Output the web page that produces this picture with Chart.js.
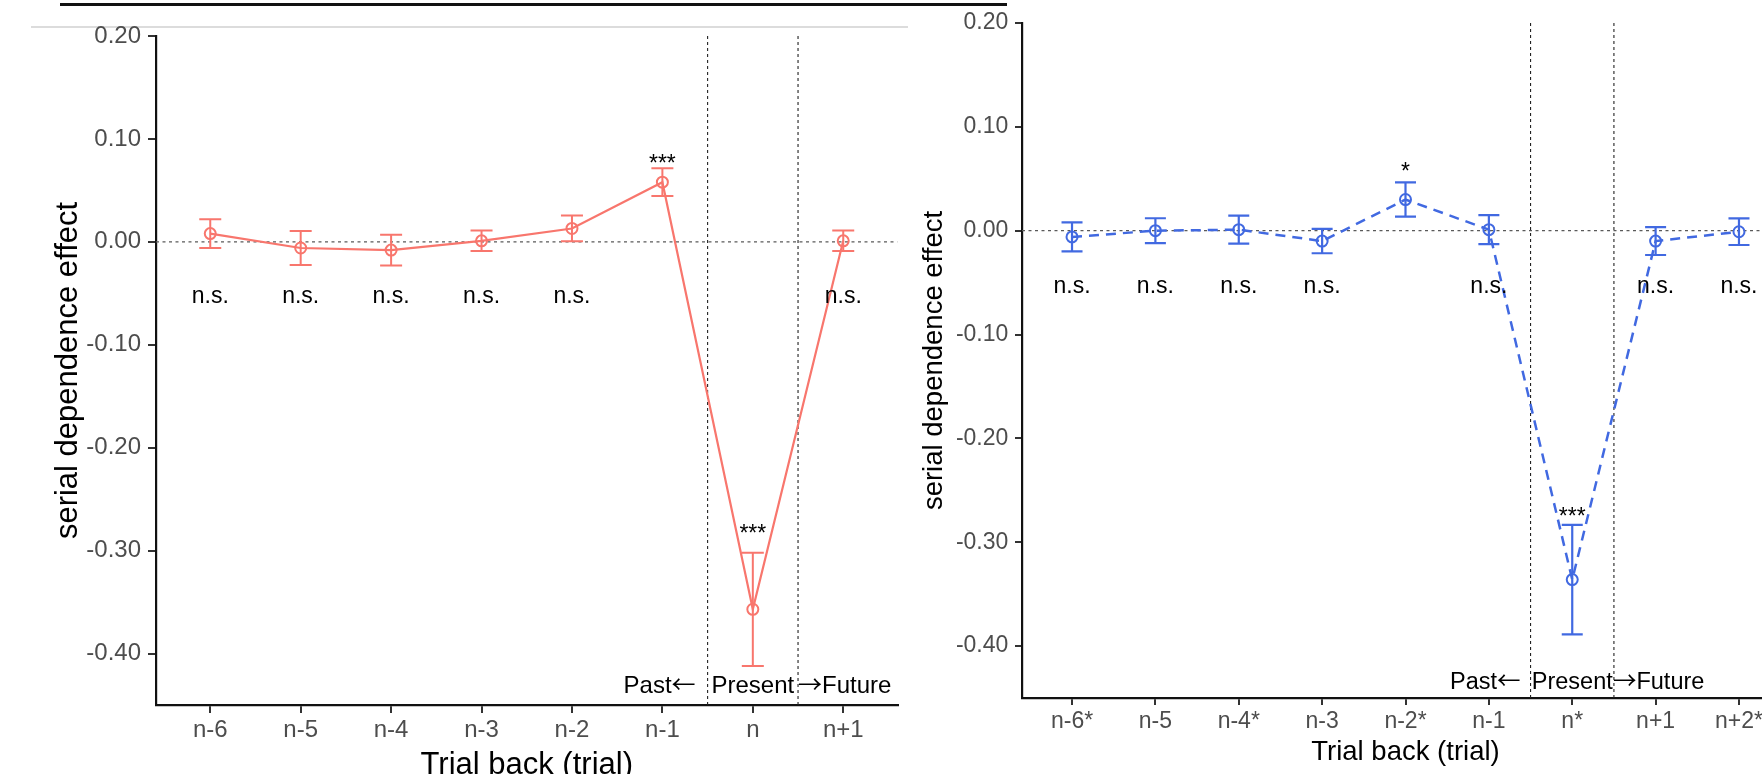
<!DOCTYPE html>
<html><head><meta charset="utf-8">
<script src="https://cdn.jsdelivr.net/npm/chart.js@4.4.1/dist/chart.umd.min.js"></script>
<style>
html,body{margin:0;padding:0;background:#fff;}
#wrap{position:relative;width:1762px;height:774px;overflow:hidden;background:#fff;}
#c1{position:absolute;left:0;top:0;}
#c2{position:absolute;left:900px;top:0;}
.rule1{position:absolute;left:60px;top:3px;width:947px;height:3px;background:#111;}
.rule2{position:absolute;left:31px;top:26px;width:877px;height:1.5px;background:#dcdcdc;}
</style></head>
<body><div id="wrap">
<div class="rule1"></div><div class="rule2"></div>
<canvas id="c1" width="905" height="800"></canvas>
<canvas id="c2" width="900" height="800"></canvas>
</div>
<script>
// ---------- data ----------
const yTicks = [-0.40, -0.30, -0.20, -0.10, 0.00, 0.10, 0.20];
const yMin = -0.45, yMax = 0.20;

const leftCategories = ["n-6", "n-5", "n-4", "n-3", "n-2", "n-1", "n", "n+1"];
const leftMeans      = [0.008, -0.006, -0.008, 0.001, 0.013, 0.058, -0.357, 0.001];
const leftErrors     = [0.014, 0.0165, 0.015, 0.010, 0.0125, 0.0135, 0.055, 0.010];
const leftSigLabels  = ["n.s.", "n.s.", "n.s.", "n.s.", "n.s.", "***", "***", "n.s."];
const leftSigY       = [-0.0595, -0.0595, -0.0595, -0.0595, -0.0595, 0.069, -0.291, -0.0595];

const rightCategories = ["n-6*", "n-5", "n-4*", "n-3", "n-2*", "n-1", "n*", "n+1", "n+2*"];
const rightMeans      = [-0.006, 0.000, 0.001, -0.010, 0.030, 0.001, -0.336, -0.010, -0.001];
const rightErrors     = [0.014, 0.012, 0.0135, 0.0117, 0.0165, 0.014, 0.0527, 0.0134, 0.0128];
const rightSigLabels  = ["n.s.", "n.s.", "n.s.", "n.s.", "*", "n.s.", "***", "n.s.", "n.s."];
const rightSigY       = [-0.0596, -0.0596, -0.0596, -0.0596, 0.050, -0.0596, -0.282, -0.0596, -0.0596];

const presentIndex = 6;
const pastWord = "Past", presentWord = "Present", futureWord = "Future";
const leftArrow = "\u2190", rightArrow = "\u2192";
const leftPeriodY = -0.4385;
const rightPeriodY = -0.4415;

// ---------- chart builder ----------
const FAMILY = "'Liberation Sans', Arial, sans-serif";
const ARROW_FAMILY = "'Noto Sans CJK JP', 'DejaVu Sans', sans-serif";

function drawSegments(ctx, segs, x, y, align) {
  const widths = segs.map(s => { ctx.font = s.font; return ctx.measureText(s.text).width; });
  const total = widths.reduce((a, b) => a + b, 0);
  let cx = align === 'right' ? x - total : (align === 'center' ? x - total / 2 : x);
  ctx.textAlign = 'left';
  segs.forEach((s, i) => { ctx.font = s.font; ctx.fillText(s.text, cx, y); cx += widths[i]; });
}

function buildChart(canvasId, o) {
  const n = o.categories.length;
  const xMin = -0.6, xMax = n - 1 + 0.6;
  const points = o.categories.map((c, i) => ({x: i, y: o.means[i]}));

  const overlay = {
    id: 'overlay' + canvasId,
    afterDatasetsDraw(chart) {
      const {ctx, scales: {x, y}} = chart;
      ctx.save();
      ctx.strokeStyle = o.color;
      ctx.lineWidth = o.ebWidth;
      ctx.setLineDash([]);
      o.means.forEach((m, i) => {
        const px = x.getPixelForValue(i);
        const t = y.getPixelForValue(m + o.errors[i]);
        const b = y.getPixelForValue(m - o.errors[i]);
        ctx.beginPath();
        ctx.moveTo(px, t); ctx.lineTo(px, b);
        ctx.moveTo(px - o.cap, t); ctx.lineTo(px + o.cap, t);
        ctx.moveTo(px - o.cap, b); ctx.lineTo(px + o.cap, b);
        ctx.stroke();
      });
      ctx.restore();
    },
    afterDraw(chart) {
      const {ctx, scales: {x, y}} = chart;
      ctx.save();
      ctx.fillStyle = '#000';
      ctx.textBaseline = 'alphabetic';
      ctx.font = o.annFont + 'px ' + FAMILY;
      ctx.textAlign = 'center';
      o.sigLabels.forEach((s, i) => {
        ctx.fillText(s, x.getPixelForValue(i), y.getPixelForValue(o.sigY[i]));
      });
      const tf = o.periodFont + 'px ' + FAMILY;
      const af = o.periodFont + 'px ' + ARROW_FAMILY;
      const py = y.getPixelForValue(o.periodY);
      const b1 = x.getPixelForValue(presentIndex - 0.5);
      const b2 = x.getPixelForValue(presentIndex + 0.5);
      drawSegments(ctx, [{text: pastWord, font: tf}, {text: leftArrow, font: af}], b1 - o.pastGap, py, 'right');
      drawSegments(ctx, [{text: presentWord, font: tf}], x.getPixelForValue(presentIndex), py, 'center');
      drawSegments(ctx, [{text: rightArrow, font: af}, {text: futureWord, font: tf}], b2 + o.futureGap, py, 'left');
      ctx.restore();
    }
  };

  return new Chart(document.getElementById(canvasId), {
    type: 'line',
    data: {
      datasets: [
        {
          data: points,
          borderColor: o.color,
          borderWidth: o.lineWidth,
          borderDash: o.dash,
          pointRadius: 5.5,
          pointBorderWidth: 2,
          pointBorderColor: o.color,
          pointBackgroundColor: 'rgba(0,0,0,0)',
          tension: 0,
          fill: false
        },
        {
          data: [{x: xMin, y: 0}, {x: xMax, y: 0}],
          borderColor: '#5a5a5a', borderWidth: 1.3, borderDash: [3, 3.5],
          pointRadius: 0, fill: false
        },
        {
          data: [{x: presentIndex - 0.5, y: yMin}, {x: presentIndex - 0.5, y: yMax}],
          borderColor: '#222', borderWidth: 1.1, borderDash: [3, 3],
          pointRadius: 0, fill: false
        },
        {
          data: [{x: presentIndex + 0.5, y: yMin}, {x: presentIndex + 0.5, y: yMax}],
          borderColor: '#222', borderWidth: 1.1, borderDash: [3, 3],
          pointRadius: 0, fill: false
        }
      ]
    },
    options: {
      responsive: false,
      animation: false,
      events: [],
      devicePixelRatio: 1,
      layout: {padding: {left: 0, top: o.padTop, right: o.padRight, bottom: 0}},
      plugins: {legend: {display: false}, tooltip: {enabled: false}},
      scales: {
        x: {
          type: 'linear', min: xMin, max: xMax,
          afterBuildTicks: s => { s.ticks = o.categories.map((c, i) => ({value: i})); },
          afterFit: s => { s.height = o.xAxisHeight; },
          ticks: {
            callback: v => o.categories[v],
            font: {family: FAMILY, size: o.tickFont},
            color: '#4d4d4d', padding: o.xTickPad, autoSkip: false, maxRotation: 0, minRotation: 0
          },
          grid: {drawOnChartArea: false, drawTicks: true, tickLength: o.tickLen, color: '#333', lineWidth: 2},
          border: {display: true, color: '#111', width: 2.2},
          title: {display: true, text: 'Trial back (trial)', color: '#000',
                  font: {family: FAMILY, size: o.titleFont, lineHeight: 1},
                  padding: {top: 0, bottom: o.xTitlePad}}
        },
        y: {
          type: 'linear', min: yMin, max: yMax,
          afterBuildTicks: s => { s.ticks = yTicks.map(v => ({value: v})); },
          afterFit: s => { s.width = o.yAxisWidth; },
          ticks: {
            callback: v => v.toFixed(2),
            font: {family: FAMILY, size: o.tickFont},
            color: '#4d4d4d', padding: o.yTickPad
          },
          grid: {drawOnChartArea: false, drawTicks: true, tickLength: o.tickLen, color: '#333', lineWidth: 2},
          border: {display: true, color: '#111', width: 2.2},
          title: {display: true, text: 'serial dependence effect', color: '#000',
                  font: {family: FAMILY, size: o.titleFont, lineHeight: 1},
                  padding: {top: o.yTitlePad, bottom: 0}}
        }
      }
    },
    plugins: [overlay]
  });
}

buildChart('c1', {
  categories: leftCategories, means: leftMeans, errors: leftErrors,
  sigLabels: leftSigLabels, sigY: leftSigY, periodY: leftPeriodY,
  color: '#F8766D', lineWidth: 2.2, dash: [], ebWidth: 2, cap: 11,
  padTop: 36, padRight: 6, xAxisHeight: 95, yAxisWidth: 156,
  tickFont: 24, tickLen: 8, xTickPad: 3.3, yTickPad: 7,
  titleFont: 31, xTitlePad: 19, yTitlePad: 53,
  annFont: 23, periodFont: 24, pastGap: 12, futureGap: 0
});

buildChart('c2', {
  categories: rightCategories, means: rightMeans, errors: rightErrors,
  sigLabels: rightSigLabels, sigY: rightSigY, periodY: rightPeriodY,
  color: '#4169E1', lineWidth: 2.5, dash: [10, 7], ebWidth: 2.2, cap: 10.5,
  padTop: 23, padRight: 11, xAxisHeight: 102, yAxisWidth: 122,
  tickFont: 23, tickLen: 7, xTickPad: 2.5, yTickPad: 6.7,
  titleFont: 27.5, xTitlePad: 34, yTitlePad: 21,
  annFont: 23, periodFont: 23.5, pastGap: 10, futureGap: -1
});
</script>
</body></html>
